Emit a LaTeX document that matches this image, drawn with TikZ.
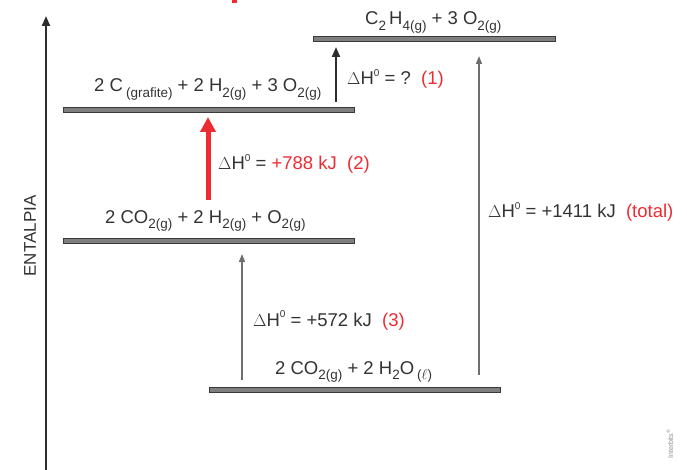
\documentclass[tikz,border=0pt]{standalone}
\usepackage{fontspec}
\setmainfont{Liberation Sans}
\usetikzlibrary{arrows.meta}
\definecolor{barfill}{HTML}{7F7F7F}
\definecolor{bardraw}{HTML}{3A3A3A}
\definecolor{axiscol}{HTML}{2E2E2E}
\definecolor{arrgray}{HTML}{6E6E6E}
\definecolor{myred}{HTML}{EC2B33}
\newcommand{\sbs}[1]{\raisebox{-0.32em}{\fontsize{13.5}{13.5}\selectfont #1}}
\newcommand{\dH}{$\Delta$H\raisebox{0.45em}{\fontsize{10}{10}\selectfont 0}}
\tikzset{
  bar/.style={draw=bardraw, fill=barfill, line width=1pt, inner sep=0pt, minimum height=5pt},
  lbl/.style={anchor=base west, inner sep=0pt, font=\fontsize{18.5}{18.5}\selectfont, text=black!80},
  darrow/.style={draw=axiscol, line width=2pt, -{Stealth[length=10pt,width=8pt,inset=0pt]}},
  garrow/.style={draw=arrgray, line width=1.5pt, -{Stealth[length=8pt,width=6pt,inset=0pt]}},
}
\begin{document}
\begin{tikzpicture}[x=1pt,y=-1pt]
\useasboundingbox (0,0) rectangle (687,470);
% top red fragment
\fill[myred] (232,0) rectangle (237,3);
% axis
\coordinate (axb) at (46,471);
\coordinate (axt) at (46,16);
\draw[darrow] (axb) -- (axt);
\node[rotate=90, inner sep=0pt, font=\fontsize{17}{17}\selectfont, text=black!80] (ent) at (30,236) {ENTALPIA};
% bars
\node[bar, minimum width=242pt] (btop) at (434,39.5) {};
\node[bar, minimum width=291pt] (b2) at (208.5,110.5) {};
\node[bar, minimum width=291pt] (b3) at (208.5,240.5) {};
\node[bar, minimum width=291pt] (b4) at (355,390) {};
% labels
\node[lbl] (ttop) at (365,25) {C\sbs{2}\,H\sbs{4(g)} + 3 O\sbs{2(g)}};
\node[lbl] (t2) at (94,92) {2 C\,\sbs{(grafite)} + 2 H\sbs{2(g)} + 3 O\sbs{2(g)}};
\node[lbl] (t3) at (105,223) {2 CO\sbs{2(g)} + 2 H\sbs{2(g)} + O\sbs{2(g)}};
\node[lbl] (t4) at (275,374) {2 CO\sbs{2(g)} + 2 H\sbs{2}O\,\sbs{($\ell$)}};
\node[lbl] (d1) at (347,85) {\dH\ = ?\ \ \textcolor{myred}{(1)}};
\node[lbl] (d2) at (218,170) {\dH\ = \textcolor{myred}{+788 kJ\ \ (2)}};
\node[lbl] (d3) at (253,326) {\dH\ = +572 kJ\ \ \textcolor{myred}{(3)}};
\node[lbl] (dt) at (488,218) {\dH\ = +1411 kJ\ \ \textcolor{myred}{(total)}};
% arrows
\coordinate (a1s) at (336,102);
\coordinate (a1e) at (336,47);
\draw[darrow] (a1s) -- (a1e);
\coordinate (a2s) at (208,200);
\coordinate (a2e) at (208,117);
\draw[myred, line width=5pt, -{Triangle[length=15pt,width=15pt]}] (a2s) -- (a2e);
\coordinate (a3s) at (242,380);
\coordinate (a3e) at (242,254);
\draw[garrow] (a3s) -- (a3e);
\coordinate (ats) at (479,375);
\coordinate (ate) at (479,56);
\draw[garrow] (ats) -- (ate);
% watermark
\node[rotate=90, inner sep=0pt, font=\fontsize{7}{7}\selectfont, text=black!45] (wm) at (670,444) {Interbits\textsuperscript{®}};
\end{tikzpicture}
\end{document}
